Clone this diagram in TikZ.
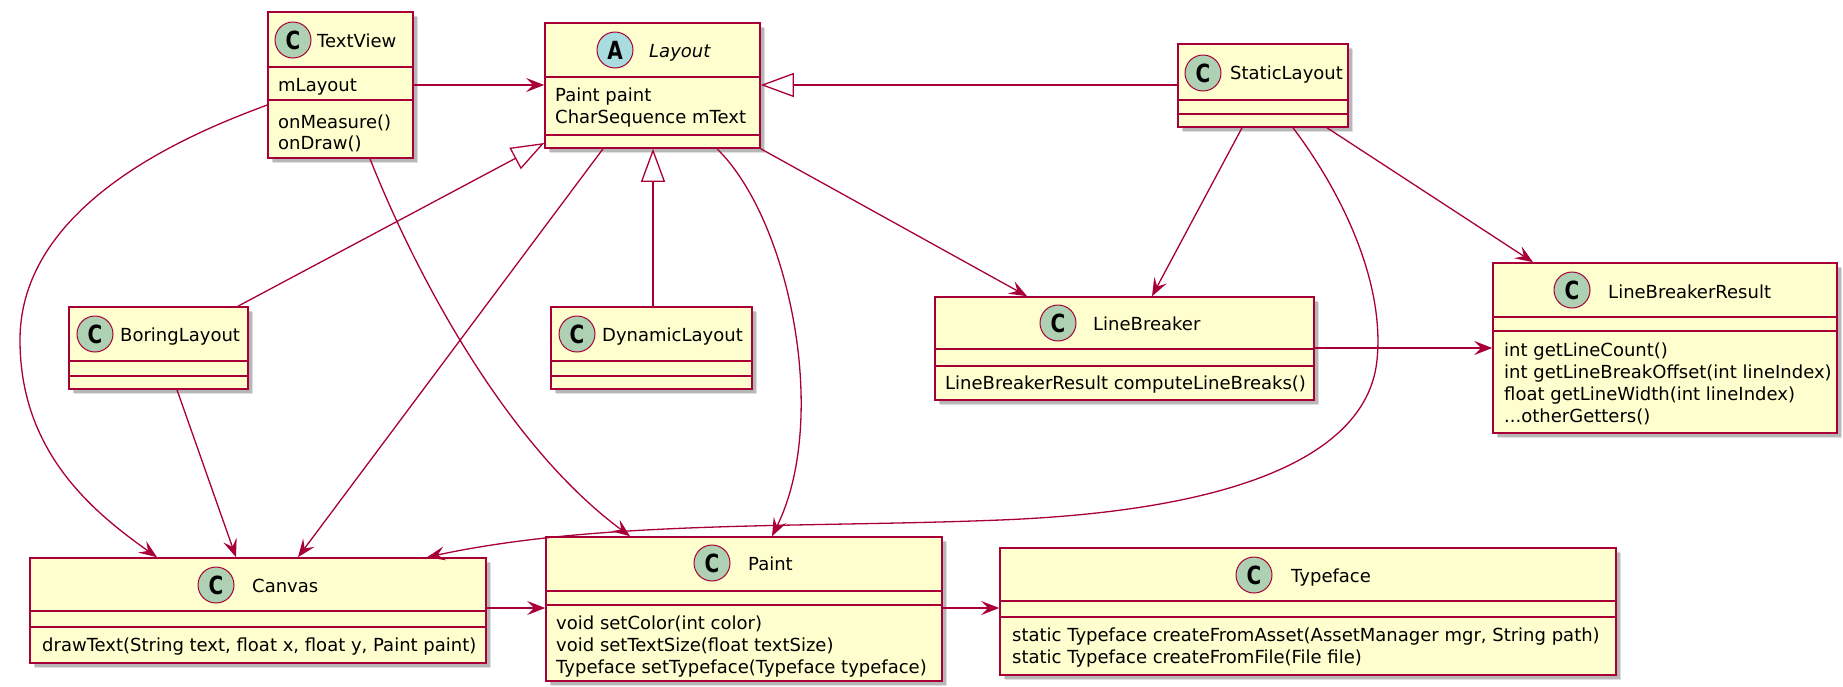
\documentclass[tikz,border=0pt]{standalone}
\usepackage{fontspec}
\setmainfont{DejaVu Sans}
\usetikzlibrary{arrows.meta,fit,shadows}

\definecolor{umlfill}{HTML}{FEFECE}
\definecolor{umlline}{HTML}{A80036}
\definecolor{iconclass}{HTML}{ADD1B2}
\definecolor{iconabstract}{HTML}{A9DCDF}

\tikzset{
  classbox/.style={draw=umlline, line width=1.6pt, fill=umlfill, inner sep=0pt,
    drop shadow={shadow xshift=5pt, shadow yshift=-5pt, opacity=0.12, fill=black},
    drop shadow={shadow xshift=3.5pt, shadow yshift=-3.5pt, opacity=0.18, fill=black}},
  sepline/.style={draw=umlline, line width=1.6pt},
  iconbase/.style={circle, draw=umlline, line width=1pt, minimum size=36pt, inner sep=0pt,
    font=\bfseries\fontsize{25}{25}\selectfont},
  iconC/.style={iconbase, fill=iconclass},
  iconA/.style={iconbase, fill=iconabstract},
  titletext/.style={anchor=base west, inner sep=0pt, font=\fontsize{18}{22}\selectfont},
  bodytext/.style={anchor=base west, inner sep=0pt, font=\fontsize{18}{22}\selectfont},
  dep/.style={draw=umlline, line width=1.3pt, -{Stealth[length=18pt, width=14pt, inset=7pt]}},
  inh/.style={draw=umlline, line width=1.3pt, -{Triangle[open, length=33pt, width=24pt, fill=white]}},
}

% class frame: name, top-left, bottom-right
\newcommand\classframe[3]{\node[classbox, fit={(#2) (#3)}] (#1) {};}
% compartment separator at a given y
\newcommand\classsep[2]{\draw[sepline] (#1.west |- 0,#2) -- (#1.east |- 0,#2);}
% header: class name, icon style, letter, icon centre, title base, title text
\newcommand\classhead[6]{%
  \node[#2] (#1-icon) at (#4) {\scalebox{0.8}[1]{#3}};
  \node[titletext] (#1-title) at (#5) {#6};}
% one member line: node name, base point, text
\newcommand\classline[3]{\node[bodytext] (#1) at (#2) {#3};}

\begin{document}
\begin{tikzpicture}[x=1pt,y=-1pt]
\fill[white] (0,0) rectangle (1843,686);
\useasboundingbox (0,0) rectangle (1843,686);

% ---------- classes ----------
\classframe{TextView}{268,12}{413,158}
\classsep{TextView}{67}\classsep{TextView}{100}
\classhead{TextView}{iconC}{C}{293,40}{317,47}{TextView}
\classline{tv-a1}{278,91}{mLayout}
\classline{tv-m1}{278,128}{onMeasure()}
\classline{tv-m2}{278,149}{onDraw()}

\classframe{Layout}{545,23}{760,148}
\classsep{Layout}{77}\classsep{Layout}{135}
\classhead{Layout}{iconA}{A}{615,50}{649,57}{\itshape Layout}
\classline{ly-a1}{555,101}{Paint paint}
\classline{ly-a2}{555,123}{CharSequence mText}

\classframe{StaticLayout}{1178,44}{1348,127}
\classsep{StaticLayout}{100}\classsep{StaticLayout}{114}
\classhead{StaticLayout}{iconC}{C}{1203,73}{1230,79}{StaticLayout}

\classframe{BoringLayout}{69,307}{248,389}
\classsep{BoringLayout}{361}\classsep{BoringLayout}{376}
\classhead{BoringLayout}{iconC}{C}{95,334}{120,341}{BoringLayout}

\classframe{DynamicLayout}{551,307}{752,389}
\classsep{DynamicLayout}{361}\classsep{DynamicLayout}{376}
\classhead{DynamicLayout}{iconC}{C}{577,334}{602,341}{DynamicLayout}

\classframe{LineBreaker}{935,297}{1314,400}
\classsep{LineBreaker}{349}\classsep{LineBreaker}{366}
\classhead{LineBreaker}{iconC}{C}{1058,323}{1093,330}{LineBreaker}
\classline{lb-m1}{945,389}{LineBreakerResult computeLineBreaks()}

\classframe{LBR}{1493,263}{1837,433}
\classsep{LBR}{317}\classsep{LBR}{331}
\classhead{LBR}{iconC}{C}{1572,290}{1608,298}{LineBreakerResult}
\classline{lbr-m1}{1504,356}{int getLineCount()}
\classline{lbr-m2}{1504,378}{int getLineBreakOffset(int lineIndex)}
\classline{lbr-m3}{1504,400}{float getLineWidth(int lineIndex)}
\classline{lbr-m4}{1504,422}{...otherGetters()}

\classframe{Canvas}{30,558}{486,663}
\classsep{Canvas}{611}\classsep{Canvas}{627}
\classhead{Canvas}{iconC}{C}{216,585}{252,592}{Canvas}
\classline{cv-m1}{42,651}{drawText(String text, float x, float y, Paint paint)}

\classframe{Paint}{546,537}{942,681}
\classsep{Paint}{591}\classsep{Paint}{605}
\classhead{Paint}{iconC}{C}{712,563}{748,570}{Paint}
\classline{pt-m1}{556,629}{void setColor(int color)}
\classline{pt-m2}{556,651}{void setTextSize(float textSize)}
\classline{pt-m3}{556,673}{Typeface setTypeface(Typeface typeface)}

\classframe{Typeface}{1000,548}{1616,675}
\classsep{Typeface}{601}\classsep{Typeface}{617}
\classhead{Typeface}{iconC}{C}{1254,575}{1291,582}{Typeface}
\classline{tf-m1}{1012,641}{static Typeface createFromAsset(AssetManager mgr, String path)}
\classline{tf-m2}{1012,663}{static Typeface createFromFile(File file)}

% ---------- relations ----------
\draw[dep] (TextView.east |- 0,85) -- (Layout.west |- 0,85);
\draw[inh] (StaticLayout.west |- 0,85) -- (Layout.east |- 0,85);
\draw[dep] (TextView.west |- 0,105) .. controls (200,130) and (20,200) .. (20,340)
  .. controls (20,450) and (90,510) .. (Canvas.north -| 157,0);
\draw[dep] (TextView.south -| 370,0) .. controls (410,260) and (500,440) .. (Paint.north -| 630,0);
\draw[inh] (BoringLayout.north -| 238,0) -- (Layout.west |- 0,143);
\draw[inh] (DynamicLayout.north -| 653,0) -- (Layout.south -| 653,0);
\draw[dep] (Layout.south -| 603,0) -- (Canvas.north -| 298,0);
\draw[dep] (Layout.south -| 717,0) .. controls (790,220) and (830,420) .. (Paint.north -| 772,0);
\draw[dep] (Layout.south east) -- (LineBreaker.north -| 1027,0);
\draw[dep] (BoringLayout.south -| 177,0) -- (Canvas.north -| 236,0);
\draw[dep] (StaticLayout.south -| 1242,0) -- (LineBreaker.north -| 1152,0);
\draw[dep] (StaticLayout.south -| 1327,0) -- (LBR.north -| 1533,0);
\draw[dep] (StaticLayout.south -| 1293,0) .. controls (1340,190) and (1385,280) .. (1377,360)
  .. controls (1368,450) and (1250,510) .. (1000,520)
  .. controls (800,528) and (600,520) .. (Canvas.north -| 427,0);
\draw[dep] (LineBreaker.east |- 0,348) -- (LBR.west |- 0,348);
\draw[dep] (Canvas.east |- 0,608) -- (Paint.west |- 0,608);
\draw[dep] (Paint.east |- 0,608) -- (Typeface.west |- 0,608);
\end{tikzpicture}
\end{document}
